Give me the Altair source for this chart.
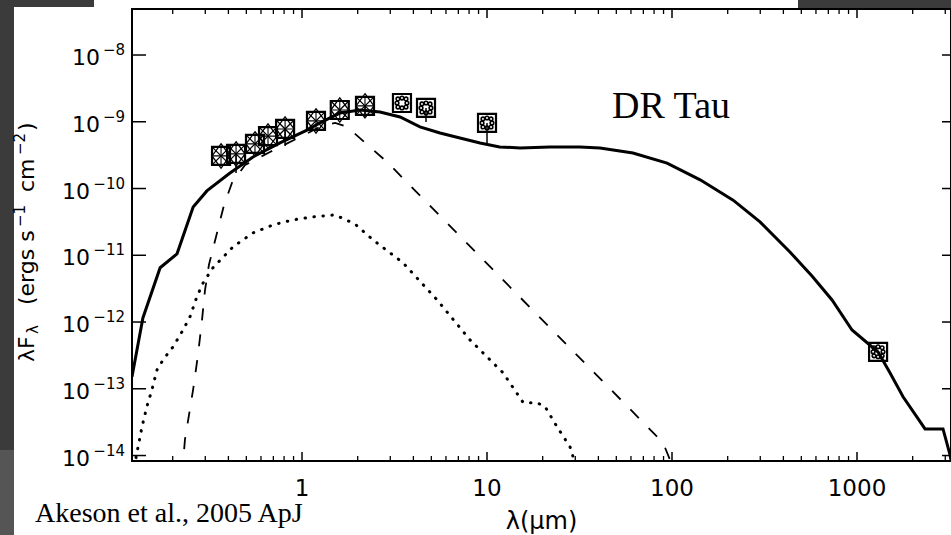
import altair as alt
import pandas as pd

# ---------------- data ----------------
# total model (solid)
solid_lam = [0.1205, 0.138, 0.171, 0.211, 0.258, 0.306, 0.408, 0.543, 0.760, 1.064, 1.25, 1.60, 2.06, 2.64,
             3.39, 4.34, 5.57, 7.14, 9.17, 11.7, 15.1, 21.9, 31.8, 40.8, 61.5, 94, 142, 214, 299, 434, 571,
             733, 940, 1300, 1507, 1774, 2333, 2917, 3184, 3300]
solid_flux = [1.51e-13, 1.15e-12, 6.5e-12, 1.05e-11, 5.3e-11, 9.2e-11, 1.71e-10, 2.97e-10, 4.82e-10, 7.5e-10,
              9.6e-10, 1.35e-9, 1.50e-9, 1.40e-9, 1.18e-9, 8.4e-10, 6.8e-10, 5.7e-10, 4.8e-10, 4.2e-10,
              4.05e-10, 4.2e-10, 4.2e-10, 4.05e-10, 3.4e-10, 2.4e-10, 1.35e-10, 6.7e-11, 3.16e-11, 1.12e-11,
              4.9e-12, 2.14e-12, 7.6e-13, 3.55e-13, 1.74e-13, 7.6e-14, 2.5e-14, 2.5e-14, 1.02e-14, 6.0e-15]

# stellar photosphere (dashed)
dashed_lam = [0.2245, 0.233, 0.258, 0.274, 0.288, 0.299, 0.314, 0.343, 0.379, 0.418, 0.492, 0.671, 0.975,
              1.25, 1.51, 1.75, 2.33, 2.88, 89.4, 100]
dashed_flux = [5.1e-15, 1.74e-14, 9.8e-14, 3.24e-13, 1.07e-12, 3.0e-12, 7.2e-12, 1.9e-11, 5.7e-11, 1.21e-10,
               2.25e-10, 3.53e-10, 5.9e-10, 8.4e-10, 9.6e-10, 8.4e-10, 4.2e-10, 2.5e-10, 1.56e-14, 7.3e-15]

# accretion / scattered component (dotted)
dotted_lam = [0.1267, 0.130, 0.1365, 0.145, 0.1545, 0.1645, 0.1774, 0.201, 0.2275, 0.248, 0.270, 0.292,
              0.330, 0.424, 0.543, 0.697, 0.894, 1.147, 1.508, 1.93, 2.42, 3.52, 5.37, 8.09, 12.2, 15.7,
              18.6, 20.6, 23.9, 28.1, 30.6]
dotted_flux = [9.3e-15, 1.35e-14, 2.7e-14, 5.4e-14, 9.7e-14, 1.92e-13, 2.72e-13, 4.26e-13, 7.6e-13, 1.20e-12,
               2.38e-12, 3.86e-12, 6.5e-12, 1.34e-11, 2.16e-11, 2.85e-11, 3.39e-11, 3.76e-11, 4.03e-11,
               2.95e-11, 1.70e-11, 7.7e-12, 2.15e-12, 5.4e-13, 1.74e-13, 6.2e-14, 6.2e-14, 5.4e-14, 2.7e-14,
               1.35e-14, 6.2e-15]

# photometry
pt_lam = [0.365, 0.44, 0.557, 0.655, 0.81, 1.19, 1.60, 2.19, 3.47, 4.68, 10.0, 1300]
pt_flux = [3.08e-10, 3.30e-10, 4.66e-10, 6.1e-10, 7.8e-10, 1.03e-9, 1.50e-9, 1.73e-9, 1.91e-9, 1.61e-9,
           9.6e-10, 3.58e-13]
pt_kind = ["opt"] * 8 + ["ir"] * 4

# lower ends of the error bars
err_lam = [0.44, 0.81, 2.19, 4.68, 10.0]
err_lo = [1.71e-10, 4.35e-10, 1.14e-9, 9.9e-10, 4.8e-10]
err_hi = [3.30e-10, 7.8e-10, 1.73e-9, 1.61e-9, 9.6e-10]

# axes
x_major = [1, 10, 100, 1000]
x_labels = ["1", "10", "100", "1000"]
x_minor = [0.2, 0.3, 0.4, 0.5, 0.6, 0.7, 0.8, 0.9, 2, 3, 4, 5, 6, 7, 8, 9, 20, 30, 40, 50, 60, 70, 80, 90,
           200, 300, 400, 500, 600, 700, 800, 900, 2000, 3000]
y_major = [1e-14, 1e-13, 1e-12, 1e-11, 1e-10, 1e-9, 1e-8]
y_label_base = ["10"] * 7
y_label_exp = ["−14", "−13", "−12", "−11", "−10", "−9", "−8"]
x_title = "λ(μm)"
# y title "λF_λ (ergs s^-1 cm^-2)" split into normal / sub / superscript pieces
y_title_parts = ["λF", "λ", "(ergs s", "−1", "cm", "−2", ")"]
y_title_kind = ["n", "sub", "n", "sup", "n", "sup", "n"]
object_label = "DR Tau"
ref_label = "Akeson et al., 2005 ApJ"

# ---------------- chart ----------------
W, H = 819, 452
SANS = "DejaVu Sans, Verdana, sans-serif"
SERIF = "Liberation Serif, Times New Roman, serif"

xs = alt.Scale(type="log", domain=[0.1205, 3222], nice=False)
ys = alt.Scale(type="log", domain=[8.28e-15, 4.89e-8], nice=False)

df_solid = pd.DataFrame({"lam": solid_lam, "f": solid_flux})
df_dash = pd.DataFrame({"lam": dashed_lam, "f": dashed_flux})
df_dot = pd.DataFrame({"lam": dotted_lam, "f": dotted_flux})
df_pt = pd.DataFrame({"lam": pt_lam, "f": pt_flux, "kind": pt_kind})
df_err = pd.DataFrame({"lam": err_lam, "lo": err_lo, "hi": err_hi})
df_xmaj = pd.DataFrame({"v": x_major, "t": x_labels})
df_xmin = pd.DataFrame({"v": x_minor})
df_ymaj = pd.DataFrame({"v": y_major, "b": y_label_base, "e": y_label_exp})

X = lambda: alt.X("lam:Q", scale=xs, axis=None)
Y = lambda: alt.Y("f:Q", scale=ys, axis=None)
XV = lambda: alt.X("v:Q", scale=xs, axis=None)
YV = lambda: alt.Y("v:Q", scale=ys, axis=None)

one = pd.DataFrame({"k": [0]})


def bg_rect(x0, x1, y0, y1, col):
    # slide background pieces around the figure (pixel styling, not data)
    return alt.Chart(one).mark_rect(color=col).encode(
        x=alt.value(x0), x2=alt.value(x1), y=alt.value(y0), y2=alt.value(y1))


bg_layers = [bg_rect(-132, -118, -9, 441, "#3b3b3b"), bg_rect(-132, -118, 441, 526, "#555555"),
             bg_rect(-132, -38, -9, -2, "#3b3b3b"), bg_rect(666, 819, -9, -1, "#3b3b3b")]

# ticks (inward, on all four sides)
y_ticks_left = alt.Chart(df_ymaj).mark_rule(color="black", strokeWidth=1.5).encode(
    y=YV(), x=alt.value(0), x2=alt.value(14))
y_ticks_right = alt.Chart(df_ymaj).mark_rule(color="black", strokeWidth=1.5).encode(
    y=YV(), x=alt.value(W - 9), x2=alt.value(W))
x_ticks_bot_major = alt.Chart(df_xmaj).mark_rule(color="black", strokeWidth=1.5).encode(
    x=XV(), y=alt.value(H), y2=alt.value(H - 9))
x_ticks_bot_minor = alt.Chart(df_xmin).mark_rule(color="black", strokeWidth=1.3).encode(
    x=XV(), y=alt.value(H), y2=alt.value(H - 5))
x_ticks_top_major = alt.Chart(df_xmaj).mark_rule(color="black", strokeWidth=1.5).encode(
    x=XV(), y=alt.value(0), y2=alt.value(9))
x_ticks_top_minor = alt.Chart(df_xmin).mark_rule(color="black", strokeWidth=1.3).encode(
    x=XV(), y=alt.value(0), y2=alt.value(5))

# y tick labels: "10" + raised exponent
y_exp_text = alt.Chart(df_ymaj).mark_text(
    font=SANS, fontSize=15, align="right", baseline="alphabetic", color="black").encode(
    y=YV(), x=alt.value(-7), text="e:N")
y_base_1 = alt.Chart(df_ymaj).transform_filter("length(datum.e) == 2").mark_text(
    font=SANS, fontSize=22, align="right", baseline="alphabetic", dy=10, color="black").encode(
    y=YV(), x=alt.value(-32), text="b:N")
y_base_2 = alt.Chart(df_ymaj).transform_filter("length(datum.e) == 3").mark_text(
    font=SANS, fontSize=22, align="right", baseline="alphabetic", dy=10, color="black").encode(
    y=YV(), x=alt.value(-42), text="b:N")

x_tick_text = alt.Chart(df_xmaj).mark_text(
    font=SANS, fontSize=23, align="center", baseline="top", color="black").encode(
    x=XV(), y=alt.value(H + 17), text="t:N")
x_title_text = alt.Chart(pd.DataFrame({"t": [x_title]})).mark_text(
    font=SANS, fontSize=24, align="center", baseline="alphabetic", color="black").encode(
    x=alt.value(W / 2), y=alt.value(H + 68), text="t:N")

# rotated y title pieces (start positions along the rotated baseline, pixel styling)
y_start = [353, 325, 296, 218, 183, 146, 122]
y_title_layers = []
for txt, kind, ystart in zip(y_title_parts, y_title_kind, y_start):
    size = 22 if kind == "n" else 15
    xoff = {"n": -105, "sub": -99, "sup": -112}[kind]
    y_title_layers.append(
        alt.Chart(pd.DataFrame({"t": [txt]})).mark_text(
            font=SANS, fontSize=size, align="left", baseline="middle", angle=270, color="black").encode(
            x=alt.value(xoff), y=alt.value(ystart), text="t:N"))

solid = alt.Chart(df_solid).mark_line(color="black", strokeWidth=3, clip=True).encode(x=X(), y=Y())
dashed = alt.Chart(df_dash).mark_line(color="black", strokeWidth=1.8, strokeDash=[12, 14],
                                      clip=True).encode(x=X(), y=Y())
dotted = alt.Chart(df_dot).mark_line(color="black", strokeWidth=3, strokeDash=[0.5, 8.5],
                                     strokeCap="round", clip=True).encode(x=X(), y=Y())

errbars = alt.Chart(df_err).mark_rule(color="black", strokeWidth=1.5).encode(
    x=alt.X("lam:Q", scale=xs, axis=None), y=alt.Y("lo:Q", scale=ys, axis=None), y2="hi:Q")

SQ = "M-1,-1L1,-1L1,1L-1,1Z"
XP = "M-1,-1L1,1M-1,1L1,-1"
PL = "M0,-1L0,1M-1,0L1,0"
DM = "M0,-1.35L1,0L0,1.35L-1,0Z"


def circ(cx, cy, r):
    return f"M{cx - r},{cy}a{r},{r} 0 1,0 {2 * r},0a{r},{r} 0 1,0 {-2 * r},0"


IRP = "".join(circ(cx, cy, 0.2) for cx, cy in [(-0.45, -0.45), (0.45, -0.45), (-0.45, 0.45), (0.45, 0.45),
                                               (0, -0.55), (0, 0.55), (-0.55, 0), (0.55, 0)])

pts_base = alt.Chart(df_pt)
marks = []
for shape, flt, sw in [(SQ, None, 2.2), (XP, "opt", 1.3), (PL, "opt", 1.1), (DM, "opt", 1.3),
                       (IRP, "ir", 1.6)]:
    c = pts_base
    if flt:
        c = c.transform_filter(alt.datum.kind == flt)
    marks.append(c.mark_point(shape=shape, size=324, filled=False, stroke="black", strokeWidth=sw,
                              opacity=1).encode(x=X(), y=Y()))

dr = alt.Chart(pd.DataFrame({"t": [object_label]})).mark_text(
    font=SERIF, fontSize=38, align="left", baseline="alphabetic", color="black").encode(
    text="t:N", x=alt.value(480), y=alt.value(109))
ak = alt.Chart(pd.DataFrame({"t": [ref_label]})).mark_text(
    font=SERIF, fontSize=28, align="left", baseline="alphabetic", color="black").encode(
    text="t:N", x=alt.value(-97), y=alt.value(513))

chart = alt.layer(
    *bg_layers, y_ticks_left, y_ticks_right, x_ticks_bot_major, x_ticks_bot_minor, x_ticks_top_major,
    x_ticks_top_minor, y_exp_text, y_base_1, y_base_2, x_tick_text, x_title_text, *y_title_layers,
    dotted, dashed, solid, errbars, *marks, dr, ak
).properties(
    width=W, height=H,
    autosize=alt.AutoSizeParams(type="none"),
    padding={"left": 132, "top": 9, "right": 0, "bottom": 74},
    background="white",
).configure_view(
    stroke="black", strokeWidth=2
)

chart.save("out.html", embed_options={"renderer": "svg", "actions": False})
